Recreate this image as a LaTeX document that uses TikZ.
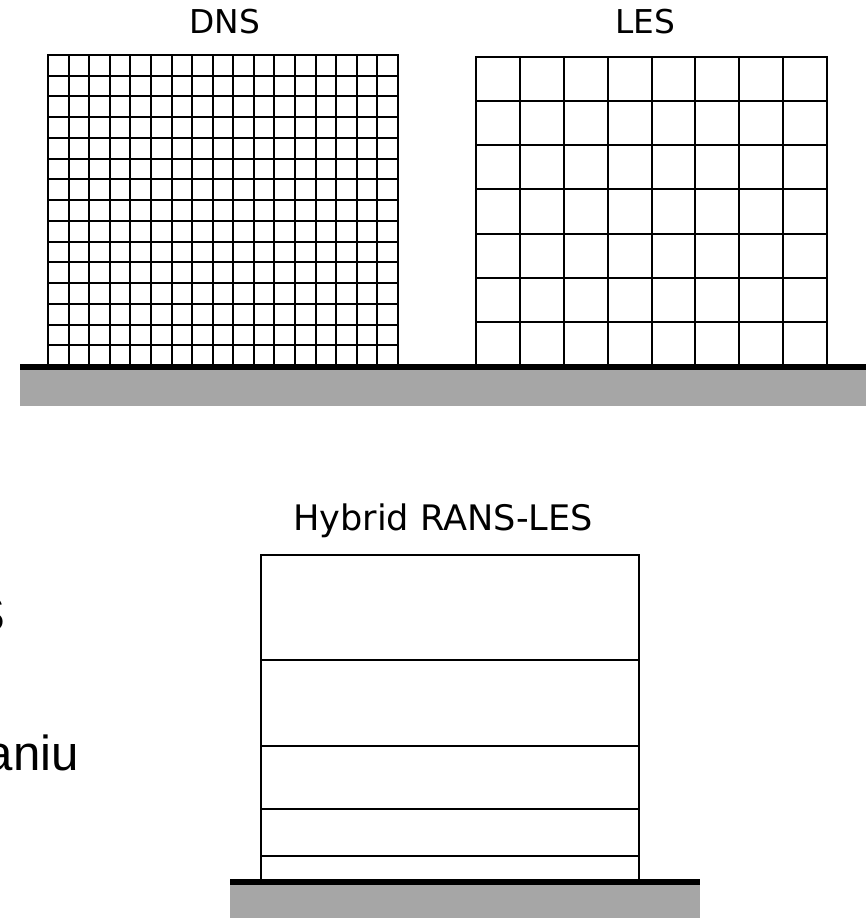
\documentclass[tikz,border=0pt]{standalone}
\usepackage{fontspec}
\setmainfont{DejaVu Sans}
\newfontfamily\slidefont{Liberation Sans}
\usetikzlibrary{positioning}
\definecolor{groundgray}{RGB}{166,166,166}
\tikzset{
  gridline/.style  = {line width=1.7pt, line cap=rect},
  thinline/.style  = {line width=1.3pt},
  wall/.style      = {line width=4.5pt},
  ground/.style    = {fill=groundgray, draw=none},
  title/.style     = {font=\fontsize{28}{32}\selectfont, anchor=base},
  slidetext/.style = {font=\slidefont\fontsize{42}{48}\selectfont, anchor=base east},
}

\begin{document}
\begin{tikzpicture}[x=0.3mm, y=-0.3mm]
  \useasboundingbox (0,0) rectangle (866,918);
  \clip (0,0) rectangle (866,918);
  % cut-off slide text on the left
  \node[slidetext] (txtS) at (9,631) {S};
  \node[slidetext] (txtaniu) at (83,770) {aniu};
  % ground, top row
  \fill[ground] (20,368) rectangle (866,406);
  \draw[wall] (20,367) -- (866,367);
  % DNS: fine grid, 17 x 15 cells
  \foreach \i in {0,...,17}
    \draw[gridline] ({48+\i*350/17},55) -- ({48+\i*350/17},366);
  \foreach \j in {0,...,14}
    \draw[gridline] (48,{55+\j*311/15}) -- (398,{55+\j*311/15});
  \node[title] (dns) at (225,33) {DNS};
  % LES: coarse grid, 8 x 7 cells
  \foreach \i in {0,...,8}
    \draw[gridline] ({476+\i*351/8},57) -- ({476+\i*351/8},366);
  \foreach \j in {0,...,6}
    \draw[gridline] (476,{57+\j*309/7}) -- (827,{57+\j*309/7});
  \node[title] (les) at (645,33) {LES};
  % hybrid RANS-LES: layers refined towards the wall
  \fill[ground] (230,884) rectangle (700,918);
  \draw[wall] (230,882) -- (700,882);
  \draw[gridline] (261,881) -- (261,555) -- (639,555) -- (639,881);
  \foreach \y in {660,746,809,856}
    \draw[thinline] (261,\y) -- (639,\y);
  \node[title, font=\fontsize{30}{34}\selectfont] (hybrid) at (443,530) {Hybrid RANS-LES};
\end{tikzpicture}
\end{document}
